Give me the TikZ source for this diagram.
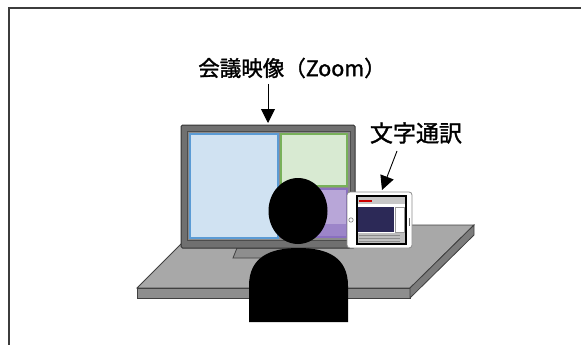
\documentclass[tikz,border=0pt]{standalone}
\usepackage{fontspec}
\setmainfont{Noto Sans CJK JP}
\newfontfamily\capfont{Noto Sans CJK JP}[FakeBold=1.4]
\usetikzlibrary{arrows.meta,positioning}

\definecolor{framegray}{HTML}{3C3C3C}
\definecolor{desktop}{HTML}{A8A8A8}
\definecolor{deskfront}{HTML}{8E8E8E}
\definecolor{deskside}{HTML}{7C7C7C}
\definecolor{bezel}{HTML}{707070}
\definecolor{panelblue}{HTML}{D0E2F2}
\definecolor{edgeblue}{HTML}{5B9BD5}
\definecolor{panelgreen}{HTML}{D8EAD2}
\definecolor{edgegreen}{HTML}{78B15A}
\definecolor{panelpurple}{HTML}{B8A6D8}
\definecolor{edgepurple}{HTML}{8A70C0}
\definecolor{navy}{HTML}{2C2957}

\begin{document}
\begin{tikzpicture}[x=1pt,y=-1pt,
    callout/.style={font=\capfont\fontsize{21.5}{23}\selectfont, inner sep=0pt},
    pointer/.style={-{Triangle[length=14pt,width=14pt]}, line width=0.9pt},
    outline/.style={draw=black!75, line width=0.8pt}]
  \useasboundingbox (0,0) rectangle (581,345);

  % open frame
  \draw[framegray, line width=1.6pt] (581,8) -- (9,8) -- (9,345);

  % desk
  \fill[desktop, outline] (137,288) -- (200,225) -- (474,225) -- (410,288) -- cycle;
  \fill[deskfront, outline] (137,288) rectangle (410,298);
  \fill[deskside, outline] (410,288) -- (474,225) -- (474,235) -- (410,298) -- cycle;

  % monitor
  \fill[deskfront, outline] (237,248) -- (292,248) -- (292,258) -- (233,258) -- cycle;
  \filldraw[fill=bezel, draw=black!80, line width=1pt, rounded corners=1.5pt]
    (181,125) rectangle (355,248);
  \filldraw[fill=black!45, draw=black!70, line width=1pt] (187,131) rectangle (350,240);
  \filldraw[fill=panelblue, draw=edgeblue, line width=1.2pt] (190,134) rectangle (278,238);
  \filldraw[fill=panelgreen, draw=edgegreen, line width=1.2pt] (281,134) rectangle (347,186);
  \filldraw[fill=panelpurple, draw=edgepurple, line width=1.2pt] (281,189) rectangle (347,237);
  \fill[edgepurple!85] (282,224) rectangle (346,236);

  % tablet
  \filldraw[fill=white, draw=black!45, line width=0.8pt, rounded corners=3pt]
    (347,192) rectangle (412,248);
  \fill[black] (356,195) rectangle (407,245);
  \fill[white] (358,197) rectangle (405,243);
  \fill[black!22] (358,197) rectangle (405,204);
  \fill[red!80!black] (359,200) rectangle (372,202);
  \fill[navy] (358,207) rectangle (394,232);
  \draw[black!40, line width=0.6pt] (395,207) rectangle (404,232);
  \fill[black!25] (358,233) rectangle (405,243);
  \foreach \yy in {235,238,241}
    \draw[black!45, line width=0.4pt] (359,\yy) -- (400,\yy);
  \draw[black!50, line width=0.6pt] (351,220) circle (2.2pt);
  \draw[black!60, line width=0.8pt] (409.5,218) -- (409.5,226);

  % person
  \fill[black] (298,211) ellipse (29.5pt and 33pt);
  \fill[black] (249,322) -- (249,286) .. controls (249,257) and (270,248) .. (298.5,248)
    .. controls (327,248) and (348,257) .. (348,286) -- (348,322) -- cycle;

  % captions and arrows
  \node[callout] (meetinglabel) at (292,68) {会議映像（Zoom）};
  \node[callout, font=\capfont\fontsize{23}{25}\selectfont] (captionlabel) at (416,133) {文字通訳};
  \coordinate (meettail) at (268,84);
  \coordinate (screentop) at (268,123);
  \coordinate (captail) at (397,151);
  \coordinate (tabletedge) at (382,190);
  \draw[pointer] (meettail) -- (screentop);
  \draw[pointer] (captail) -- (tabletedge);
\end{tikzpicture}
\end{document}
